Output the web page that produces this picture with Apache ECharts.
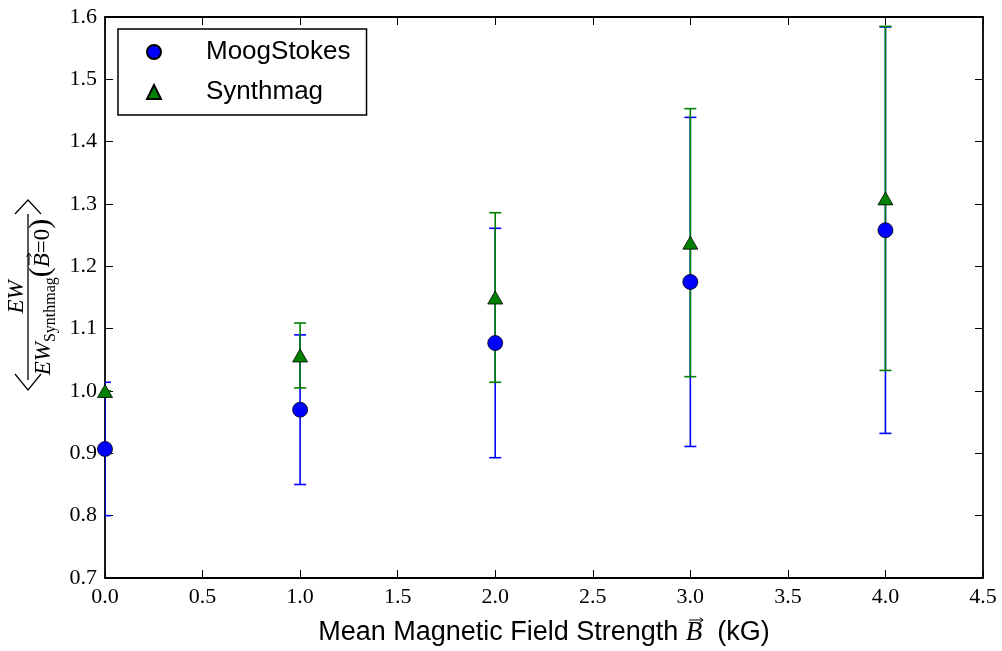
<!DOCTYPE html>
<html>
<head>
<meta charset="utf-8">
<script src="https://cdn.jsdelivr.net/npm/echarts@6/dist/echarts.min.js"></script>
<style>html,body{margin:0;padding:0;background:#fff}#c{width:1002px;height:651px}</style>
</head>
<body>
<div id="c"></div>
<script>
// ---- data ----
const fieldStrength = [0, 1, 2, 3, 4];
const moogMean = [0.907, 0.970, 1.077, 1.175, 1.258];
const moogErr = [0.107, 0.120, 0.184, 0.264, 0.326];
const synthMean = [1.000, 1.057, 1.150, 1.238, 1.309];
const synthErr = [0.000, 0.052, 0.136, 0.215, 0.276];
const seriesNames = ['MoogStokes', 'Synthmag'];
const xTitle = ['Mean Magnetic Field Strength ', 'B', '  (kG)'];

const BLUE = '#0000ff', GREEN = '#008000';
const SERIF = '"Liberation Serif", "DejaVu Serif", serif';
const SANS = '"Liberation Sans", Arial, sans-serif';

const W = 1002, H = 651;
const GRID = {left: 105, right: 19, top: 17, bottom: 73};

const mctx = document.createElement('canvas').getContext('2d');
function measure(text, font) { mctx.font = font; return mctx.measureText(text).width; }

// lay out a row of tokens, centred on cx; returns graphic children
function row(tokens, cx, baseY) {
  const widths = tokens.map(t => measure(t.text, t.font));
  const total = widths.reduce((a, b) => a + b, 0);
  let cur = cx - total / 2;
  const out = [];
  const pos = [];
  tokens.forEach((t, i) => {
    out.push({type: 'text', style: {text: t.text, x: cur, y: baseY + (t.dy || 0), font: t.font,
      align: 'left', verticalAlign: 'middle', fill: '#000'}});
    pos.push({x: cur, w: widths[i]});
    cur += widths[i];
  });
  return {children: out, pos: pos};
}
function vecArrow(cx, cy, h) {
  return [
    {type: 'line', shape: {x1: cx - h, y1: cy, x2: cx + h, y2: cy}, style: {stroke: '#000', lineWidth: 1}},
    {type: 'polyline', shape: {points: [[cx + h - 3.5, cy - 2.5], [cx + h, cy], [cx + h - 3.5, cy + 2.5]]},
     style: {stroke: '#000', lineWidth: 1, fill: null}}
  ];
}

const chart = echarts.init(document.getElementById('c'), null, {renderer: 'canvas'});

function errData(mean, err) {
  return fieldStrength.map((x, i) => [x, mean[i] - err[i], mean[i] + err[i]]);
}
function errRender(color) {
  return function (params, api) {
    const x = api.value(0);
    const lo = api.coord([x, api.value(1)]);
    const hi = api.coord([x, api.value(2)]);
    const cw = 6;
    const st = {stroke: color, lineWidth: 1.6};
    return {
      type: 'group',
      children: [
        {type: 'line', shape: {x1: lo[0], y1: lo[1], x2: hi[0], y2: hi[1]}, style: st},
        {type: 'line', shape: {x1: lo[0] - cw, y1: lo[1], x2: lo[0] + cw, y2: lo[1]}, style: st},
        {type: 'line', shape: {x1: hi[0] - cw, y1: hi[1], x2: hi[0] + cw, y2: hi[1]}, style: st}
      ]
    };
  };
}

// ---- x-axis title ----
const plotCx = GRID.left + (W - GRID.left - GRID.right) / 2;
const xt = row([
  {text: xTitle[0], font: '27px ' + SANS},
  {text: xTitle[1], font: 'italic 27px ' + SERIF},
  {text: xTitle[2], font: '27px ' + SANS}
], plotCx, 633);
const bPos = xt.pos[1];
const xTitleGroup = {type: 'group', children: xt.children.concat(vecArrow(bPos.x + bPos.w / 2 + 2, 620, 7))};

// ---- y-axis title (rotated fraction) ----
const num = row([{text: 'EW', font: 'italic 23px ' + SERIF}], 0, -11);
const den = row([
  {text: 'EW', font: 'italic 23px ' + SERIF, dy: 16},
  {text: 'Synthmag', font: '16px ' + SERIF, dy: 23},
  {text: '(', font: '30px ' + SERIF, dy: 13},
  {text: 'B', font: 'italic 23px ' + SERIF, dy: 15},
  {text: '=0', font: '23px ' + SERIF, dy: 15},
  {text: ')', font: '30px ' + SERIF, dy: 13}
], 0, 0);
const bY = den.pos[3];
const brSt = {stroke: '#000', lineWidth: 1.2, fill: null};
const yTitleGroup = {
  type: 'group', x: 28, y: 297, rotation: Math.PI / 2,
  children: [
    {type: 'line', shape: {x1: -83, y1: 0, x2: 83, y2: 0}, style: {stroke: '#000', lineWidth: 1.3}}
  ].concat(num.children, den.children, vecArrow(bY.x + bY.w / 2 + 1, 1, 6), [
    {type: 'polyline', shape: {points: [[-77, -13], [-93, 0], [-77, 13]]}, style: brSt},
    {type: 'polyline', shape: {points: [[83, -13], [97, 0], [83, 13]]}, style: brSt}
  ])
};

const axisCommon = {
  axisLine: {show: true, onZero: false, lineStyle: {color: '#000', width: 1.8}},
  axisTick: {show: true, inside: true, length: 8, lineStyle: {color: '#000', width: 1}},
  splitLine: {show: false}
};

const option = {
  animation: false,
  backgroundColor: '#fff',
  grid: {left: GRID.left, right: GRID.right, top: GRID.top, bottom: GRID.bottom, containLabel: false},
  legend: {
    orient: 'vertical',
    left: 118, top: 29,
    data: seriesNames,
    backgroundColor: '#fff',
    borderColor: '#000', borderWidth: 1.5, borderRadius: 0,
    padding: [10, 16, 10, 28],
    itemWidth: 14, itemHeight: 14, itemGap: 14,
    textStyle: {fontFamily: SANS, fontSize: 26, color: '#000', padding: [0, 0, 0, 40]}
  },
  xAxis: [
    Object.assign({
      type: 'value', min: 0, max: 4.5, interval: 0.5, position: 'bottom',
      axisLabel: {fontFamily: SERIF, fontSize: 22, color: '#000', margin: 8,
        formatter: v => v.toFixed(1)}
    }, axisCommon),
    Object.assign({
      type: 'value', min: 0, max: 4.5, interval: 0.5, position: 'top',
      axisLabel: {show: false}
    }, axisCommon)
  ],
  yAxis: [
    Object.assign({
      type: 'value', min: 0.7, max: 1.6, interval: 0.1, position: 'left',
      axisLabel: {fontFamily: SERIF, fontSize: 22, color: '#000', margin: 8,
        formatter: v => v.toFixed(1)}
    }, axisCommon),
    Object.assign({
      type: 'value', min: 0.7, max: 1.6, interval: 0.1, position: 'right',
      axisLabel: {show: false}
    }, axisCommon)
  ],
  graphic: [xTitleGroup, yTitleGroup],
  series: [
    {type: 'custom', name: 'moogErr', data: errData(moogMean, moogErr), renderItem: errRender(BLUE),
     clip: true, z: 2, encode: {x: 0, y: [1, 2]}, silent: true},
    {type: 'custom', name: 'synthErr', data: errData(synthMean, synthErr), renderItem: errRender(GREEN),
     clip: true, z: 3, encode: {x: 0, y: [1, 2]}, silent: true},
    {type: 'scatter', name: seriesNames[0], data: fieldStrength.map((x, i) => [x, moogMean[i]]),
     symbol: 'circle', symbolSize: 15, clip: true, z: 4,
     itemStyle: {color: BLUE, borderColor: '#000', borderWidth: 0.8, opacity: 1}},
    {type: 'scatter', name: seriesNames[1], data: fieldStrength.map((x, i) => [x, synthMean[i]]),
     symbol: 'triangle', symbolSize: [15, 13], clip: true, z: 5,
     itemStyle: {color: GREEN, borderColor: '#000', borderWidth: 0.8, opacity: 1}}
  ]
};
chart.setOption(option);
</script>
</body>
</html>
